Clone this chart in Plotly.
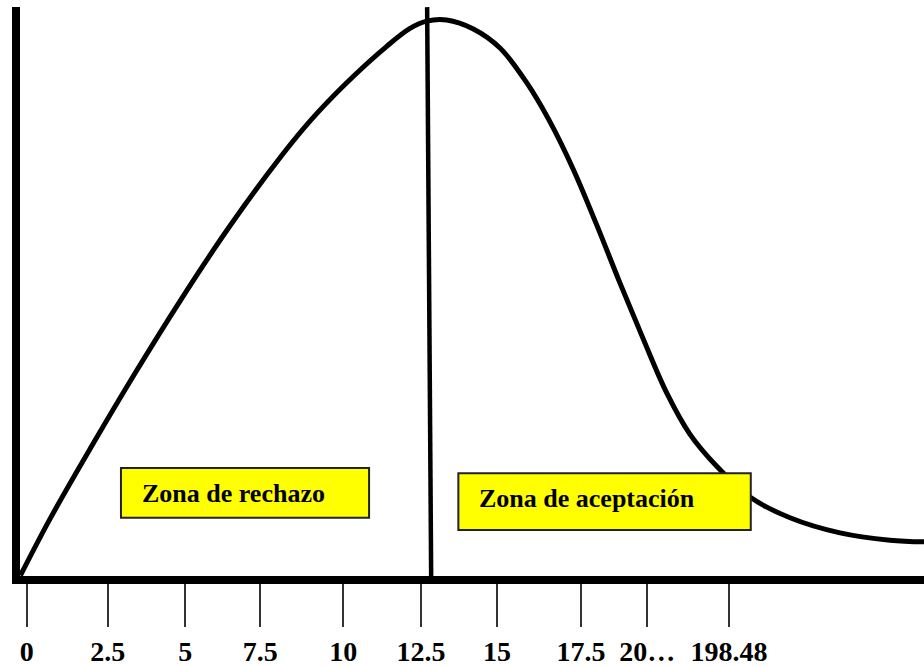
import plotly.graph_objects as go

# curve (x in axis units, y as relative density)
curve_x = [-0.2, 0.747, 2.083, 3.47, 4.912, 6.459, 8.17, 9.132, 10.253, 11.535, 12.281,
           12.816, 13.457, 14.31, 15.165, 16.02, 16.767, 17.514, 18.263, 19.01, 19.756,
           20.506, 21.253, 22.108, 23.175, 24.457, 26.06, 27.66, 28.75]
curve_y = [0.008, 0.109, 0.239, 0.369, 0.498, 0.628, 0.758, 0.823, 0.888, 0.953, 0.985,
           0.998, 1.0, 0.984, 0.95, 0.888, 0.818, 0.733, 0.634, 0.53, 0.43,
           0.334, 0.26, 0.203, 0.148, 0.111, 0.084, 0.071, 0.068]

# critical value line
cutoff_x = [12.83, 12.96]
cutoff_y = [1.023, 0.0]

tick_pos = [0, 2.6, 5.08, 7.48, 10.14, 12.63, 15.07, 17.76, 19.88, 22.5]
tick_labels = ["0", "2.5", "5", "7.5", "10", "12.5", "15", "17.5", "20…", "198.48"]

zone_labels = ["Zona de rechazo", "Zona de aceptación"]

fig = go.Figure()
fig.add_trace(go.Scatter(
    x=curve_x, y=curve_y, mode="lines",
    line=dict(color="black", width=5, shape="spline", smoothing=1.0),
    hoverinfo="skip",
))
fig.add_trace(go.Scatter(
    x=cutoff_x, y=cutoff_y, mode="lines",
    line=dict(color="black", width=4.5), hoverinfo="skip",
))

font = dict(family="Liberation Serif, Times New Roman, serif", color="black")

# yellow zone boxes
fig.add_shape(type="rect", xref="x", yref="y", x0=3.02, x1=10.97, y0=0.111, y1=0.2,
              fillcolor="#ffff00", line=dict(color="#222", width=2), layer="above")
fig.add_shape(type="rect", xref="x", yref="y", x0=13.83, x1=23.2, y0=0.0893, y1=0.1905,
              fillcolor="#ffff00", line=dict(color="#222", width=2), layer="above")
fig.add_annotation(x=3.62, y=0.1536, text="<b>%s</b>" % zone_labels[0], showarrow=False,
                   xanchor="left", yanchor="middle", font=dict(size=26, **font))
fig.add_annotation(x=14.42, y=0.1446, text="<b>%s</b>" % zone_labels[1], showarrow=False,
                   xanchor="left", yanchor="middle", font=dict(size=26, **font))

fig.update_layout(
    width=924, height=666,
    margin=dict(l=20, r=0, t=7, b=90),
    plot_bgcolor="white", paper_bgcolor="white",
    showlegend=False,
)
fig.update_xaxes(
    range=[-0.215, 28.75], showgrid=False, zeroline=False,
    showline=True, linecolor="black", linewidth=8,
    ticks="outside", ticklen=43, tickwidth=1.5, tickcolor="#333",
    tickvals=tick_pos, ticktext=["<b>%s</b>" % t for t in tick_labels],
    tickfont=dict(size=28, **font),
)
fig.update_yaxes(
    range=[0.007, 1.0232], showgrid=False, zeroline=False,
    showline=True, linecolor="black", linewidth=8,
    showticklabels=False, ticks="",
)

# page body has a default 8px margin; drop it so the figure sits at the corner
fig.write_html("out.html", config={"displayModeBar": False},
               post_script="document.body.style.margin='0';")
